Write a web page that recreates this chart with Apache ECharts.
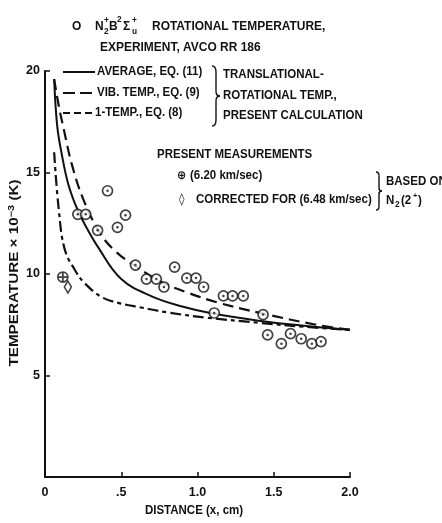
<!DOCTYPE html>
<html><head><meta charset="utf-8">
<script src="https://cdn.jsdelivr.net/npm/echarts@6/dist/echarts.min.js"></script>
<style>html,body{margin:0;padding:0;background:#fff}#c{width:442px;height:523px}</style>
</head><body><div id="c"></div>
<script>
// Experiment points (AVCO RR 186), x in cm, T x 10^-3 K
var expX = [0.215,0.267,0.345,0.41,0.475,0.528,0.593,0.665,0.73,0.78,0.85,0.93,0.99,1.04,1.11,1.17,1.23,1.30,1.43,1.46,1.55,1.61,1.68,1.75,1.81];
var expY = [12.94,12.94,12.15,14.1,12.3,12.9,10.44,9.75,9.75,9.36,10.34,9.8,9.8,9.36,8.08,8.92,8.92,8.92,8.0,7.0,6.57,7.06,6.81,6.57,6.67];
// Present measurements
var measX = [0.117]; var measY = [9.85];
var corrX = [0.15]; var corrY = [9.36];
// Calculated curves
var avgX = [0.06,0.08,0.11,0.15,0.2,0.25,0.35,0.5,0.7,0.9,1.1,1.4,1.7,2.0];
var avgY = [19.6,17.3,15.9,14.5,13.4,12.6,11.3,9.75,8.9,8.4,8.05,7.7,7.45,7.25];
var vibX = [0.06,0.09,0.124,0.176,0.25,0.35,0.45,0.6,0.78,0.94,1.13,1.43,1.78,2.0];
var vibY = [19.6,18.3,17.1,15.4,13.7,12.15,11.2,10.35,9.55,9.07,8.6,8.05,7.5,7.25];
var oneX = [0.06,0.09,0.13,0.2,0.26,0.37,0.48,0.63,0.81,1.07,1.4,1.7,2.0];
var oneY = [16.0,13.2,11.2,10.15,9.55,8.87,8.58,8.35,8.1,7.84,7.6,7.4,7.25];
var xTicks = {0:'0',0.5:'.5',1:'1.0',1.5:'1.5',2:'2.0'};

function zip(a,b){return a.map(function(v,i){return [v,b[i]];});}
var F = '"Liberation Sans",Arial,sans-serif';
var SX = 0.92;
var ink = '#111';
function T(x,y,text,size,extra){
  var s = {text:text, x:0, y:0, font:'bold '+(size||12.5)+'px '+F, fill:ink, verticalAlign:'middle'};
  if(extra) for(var k in extra) s[k]=extra[k];
  return {type:'text', x:x, y:y, scaleX:SX, style:s, z:10};
}
function L(x1,y,x2,dash){
  return {type:'line', shape:{x1:x1,y1:y,x2:x2,y2:y}, style:{stroke:ink, lineWidth:2, lineDash:dash||null}, z:10};
}
function seg(a,b,c,d){return {type:'line',shape:{x1:a,y1:b,x2:c,y2:d},style:{stroke:ink,lineWidth:1.4},z:10};}
function qc(a,b,cx,cy,c,d){return {type:'bezierCurve',shape:{x1:a,y1:b,cpx1:cx,cpy1:cy,x2:c,y2:d},style:{stroke:ink,fill:null,lineWidth:1.4},z:10};}
function brace(x0,y0,y1,w){
  var ym=(y0+y1)/2, h=y1-y0, xm=x0+w/2, xt=x0+w;
  return {type:'group', children:[
    qc(x0,y0,xm,y0,xm,y0+h*0.1),
    seg(xm,y0+h*0.1,xm,ym-h*0.08),
    qc(xm,ym-h*0.08,xm,ym,xt,ym),
    qc(xt,ym,xm,ym,xm,ym+h*0.08),
    seg(xm,ym+h*0.08,xm,y1-h*0.1),
    qc(xm,y1-h*0.1,xm,y1,x0,y1)
  ]};
}
var chart = echarts.init(document.getElementById('c'));
chart.setOption({
  animation:false,
  backgroundColor:'#fff',
  grid:{left:45,right:92,top:71,bottom:46,containLabel:false,outerBoundsMode:'none'},
  xAxis:{type:'value',min:0,max:2,interval:0.5,
    axisLine:{lineStyle:{color:ink,width:2}},
    axisTick:{inside:true,length:5,lineStyle:{color:ink,width:1.5}},
    splitLine:{show:false},
    axisLabel:{color:ink,fontFamily:F,fontWeight:'bold',fontSize:12.5,margin:9,
      formatter:function(v){return xTicks[v]!==undefined?xTicks[v]:'';}}
  },
  yAxis:{type:'value',min:0,max:20,interval:5,
    axisLine:{show:true,lineStyle:{color:ink,width:2}},
    axisTick:{show:true,inside:true,length:5,lineStyle:{color:ink,width:1.5}},
    splitLine:{show:false},
    axisLabel:{color:ink,fontFamily:F,fontWeight:'bold',fontSize:12.5,margin:5,
      formatter:function(v){return v===0?'':String(v);}}
  },
  series:[
    {type:'line',data:zip(avgX,avgY),smooth:0.4,symbol:'none',lineStyle:{color:ink,width:2}},
    {type:'line',data:zip(vibX,vibY),smooth:0.4,symbol:'none',lineStyle:{color:ink,width:2.2,type:[11,6]}},
    {type:'line',data:zip(oneX,oneY),smooth:0.4,symbol:'none',lineStyle:{color:ink,width:2.2,type:[11,4,4,4]}},
    {type:'scatter',data:zip(expX,expY),symbol:'circle',symbolSize:10,
      itemStyle:{color:'#fff',borderColor:ink,borderWidth:1.7},z:5},
    {type:'scatter',data:zip(expX,expY),symbol:'circle',symbolSize:2.5,itemStyle:{color:ink},z:6},
    {type:'scatter',data:zip(measX,measY),symbol:'path://M10,0A10,10 0 1,1 9.99,0ZM0,10L20,10M10,0L10,20',symbolSize:10,
      itemStyle:{color:'#fff',borderColor:ink,borderWidth:1.8},z:6},
    {type:'scatter',data:zip(corrX,corrY),symbol:'diamond',symbolSize:[7,12],
      itemStyle:{color:'#fff',borderColor:ink,borderWidth:1.6},z:6}
  ],
  graphic:[
    T(72,26,'O',13),
    T(95,26,'N',13), T(104,21,'+',9), T(104,32,'2',9),
    T(109,26,'B',13), T(117,20,'2',9), T(123,26,'Σ',13),
    T(132,21,'+',9), T(132,32,'u',9),
    T(152,26,'ROTATIONAL TEMPERATURE,',13),
    T(100,47,'EXPERIMENT, AVCO RR 186',13),
    L(63,72,95), T(97,72,'AVERAGE, EQ. (11)',12.5),
    L(63,93,93,[12,5]), T(97,93,'VIB. TEMP., EQ. (9)',12.5),
    L(63,113,93,[7,4]), T(95,113,'1-TEMP., EQ. (8)',12.5),
    brace(212,66,126,8),
    T(223,75,'TRANSLATIONAL-',12.5),
    T(223,96,'ROTATIONAL TEMP.,',12.5),
    T(223,116,'PRESENT CALCULATION',12.5),
    T(157,155,'PRESENT MEASUREMENTS',12.5),
    T(177,176,'⊕',12,{font:'bold 12px "DejaVu Sans",sans-serif'}),
    T(190,176,'(6.20 km/sec)',12.5),
    T(179,200,'◊',12,{font:'bold 12px "DejaVu Sans",sans-serif'}),
    T(196,200,'CORRECTED FOR (6.48 km/sec)',12.5),
    brace(376,172,210,6),
    T(386,182,'BASED ON',12.5),
    T(386,201,'N',12.5), T(395,205,'2',9), T(401,201,'(2',12.5), T(413,196,'+',8), T(418,201,')',12.5),
    T(194,511,'DISTANCE (x, cm)',12.5,{align:'center'}),
    {type:'text', x:15, y:273, rotation:Math.PI/2, scaleX:1.22, z:10,
      style:{x:0,y:0,align:'center',verticalAlign:'middle',
        text:'{a|TEMPERATURE × 10}{s|−3}{a| (K)}',
        rich:{a:{fill:ink,font:'bold 12.5px '+F},
              s:{fill:ink,font:'bold 9px '+F,verticalAlign:'top',padding:[0,0,6,0]}}}}
  ]
});
</script></body></html>
